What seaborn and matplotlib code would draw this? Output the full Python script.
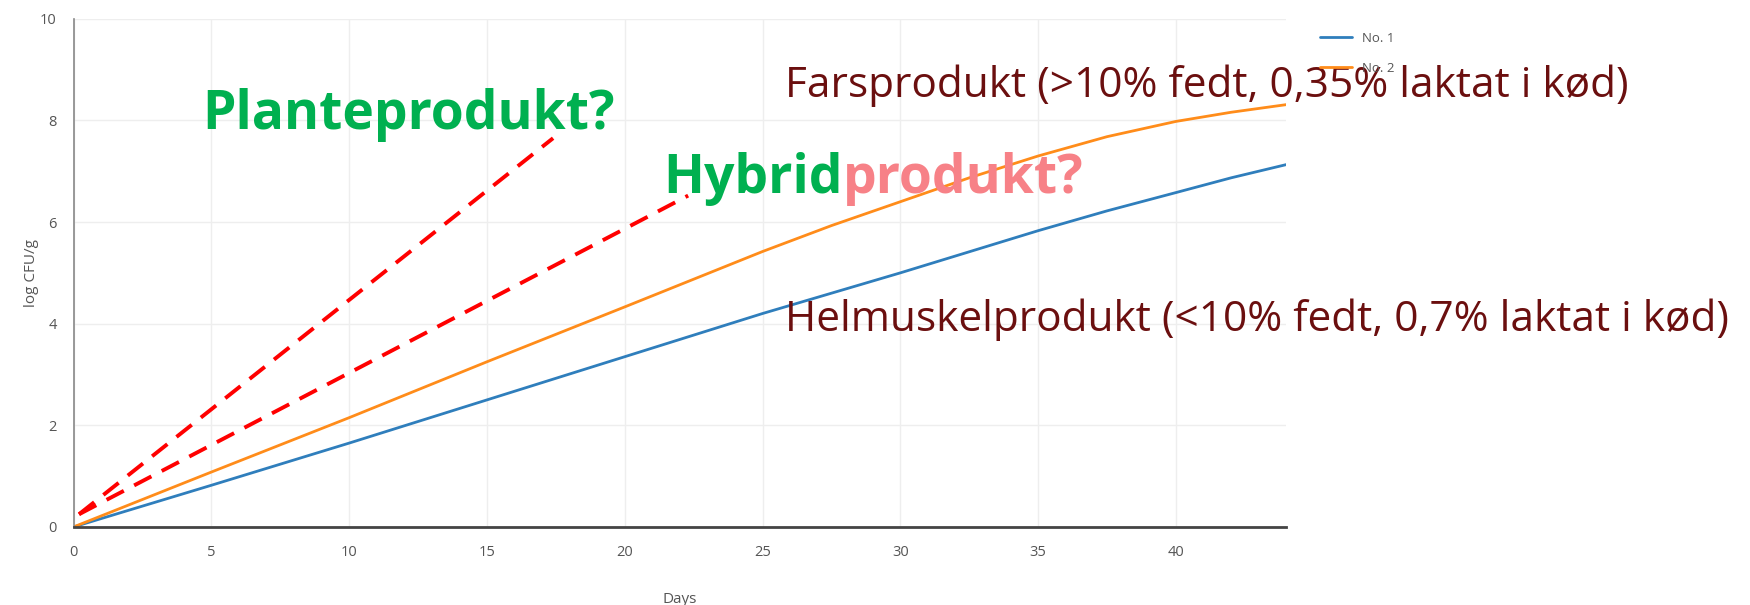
import numpy as np
import pandas as pd
import matplotlib
matplotlib.use('Agg')
import matplotlib.pyplot as plt
import seaborn as sns

# Values
days_1 = [0, 5, 10, 15, 20, 25, 30, 35, 37.5, 40, 42, 44]
cfu_1 = [0, 0.82, 1.65, 2.5, 3.35, 4.2, 5.0, 5.83, 6.22, 6.58, 6.87, 7.13]
days_2 = [0, 5, 10, 15, 20, 25, 27.5, 30, 32.5, 35, 37.5, 40, 42, 44]
cfu_2 = [0, 1.08, 2.15, 3.25, 4.33, 5.42, 5.93, 6.4, 6.87, 7.3, 7.68, 7.98, 8.16, 8.31]
series_names = ['No. 1', 'No. 2']

# hand-drawn dashed guides
plante_x = [0.2, 17.4]
plante_y = [0.25, 7.65]
hybrid_x = [0.2, 22.3]
hybrid_y = [0.25, 6.52]

x_ticks = [0, 5, 10, 15, 20, 25, 30, 35, 40]
y_ticks = [0, 2, 4, 6, 8, 10]

df = pd.DataFrame({
    'Days': days_1 + days_2,
    'log CFU/g': cfu_1 + cfu_2,
    'series': [series_names[0]] * len(days_1) + [series_names[1]] * len(days_2),
})

sns.set_style('white')
plt.rcParams['font.family'] = ['Open Sans', 'DejaVu Sans']

fig = plt.figure(figsize=(17.5, 6.05), dpi=100)
ax = fig.add_axes([0.042, 0.129, 0.693, 0.84])

sns.lineplot(data=df, x='Days', y='log CFU/g', hue='series',
             palette=['#2f7ebc', '#ff8c1a'], linewidth=2, ax=ax)

ax.plot(plante_x, plante_y, color='#ff0000', linestyle=(0, (5, 3)), linewidth=2.8)
ax.plot(hybrid_x, hybrid_y, color='#ff0000', linestyle=(0, (5, 3)), linewidth=2.8)

ax.set_xlim(0, 44)
ax.set_ylim(0, 10)
ax.set_xticks(x_ticks)
ax.set_yticks(y_ticks)
ax.grid(True, color='#eeeeee', linewidth=1)
ax.tick_params(length=0, labelsize=10.5, labelcolor='#555555')
ax.tick_params(axis='x', pad=13)
ax.tick_params(axis='y', pad=12)
for s in ['top', 'right']:
    ax.spines[s].set_visible(False)
ax.spines['left'].set_color('#888888')
ax.spines['left'].set_linewidth(1.2)
ax.spines['bottom'].set_color('#444444')
ax.spines['bottom'].set_linewidth(2)
ax.set_xlabel('Days', fontsize=11, color='#555555', labelpad=23)
ax.set_ylabel('log CFU/g', fontsize=11, color='#555555', labelpad=1)

leg = ax.legend(loc='upper left', bbox_to_anchor=(1.018, 0.998), frameon=False,
                fontsize=9.5, labelcolor='#555555', handlelength=2.4,
                labelspacing=1.3, title=None)

ax.text(4.67, 8.11, 'Planteprodukt?', color='#00b050', fontsize=38.5,
        fontweight='bold', va='center', ha='left', zorder=5)
t1 = ax.text(21.4, 6.84, 'Hybrid', color='#00b050', fontsize=38.5,
             fontweight='bold', va='center', ha='left', zorder=5)
ax.annotate('produkt?', xy=(1, 0), xycoords=t1, va='bottom', ha='left',
            color='#f78187', fontsize=38.5, fontweight='bold', zorder=5)
ax.text(25.8, 8.68, 'Farsprodukt (>10% fedt, 0,35% laktat i kød)',
        color='#6b0f0f', fontsize=30.5, va='center', ha='left',
        clip_on=False, zorder=5)
ax.text(25.8, 4.07, 'Helmuskelprodukt (<10% fedt, 0,7% laktat i kød)',
        color='#6b0f0f', fontsize=30.5, va='center', ha='left',
        clip_on=False, zorder=5)

fig.savefig('out.png', dpi=100)
